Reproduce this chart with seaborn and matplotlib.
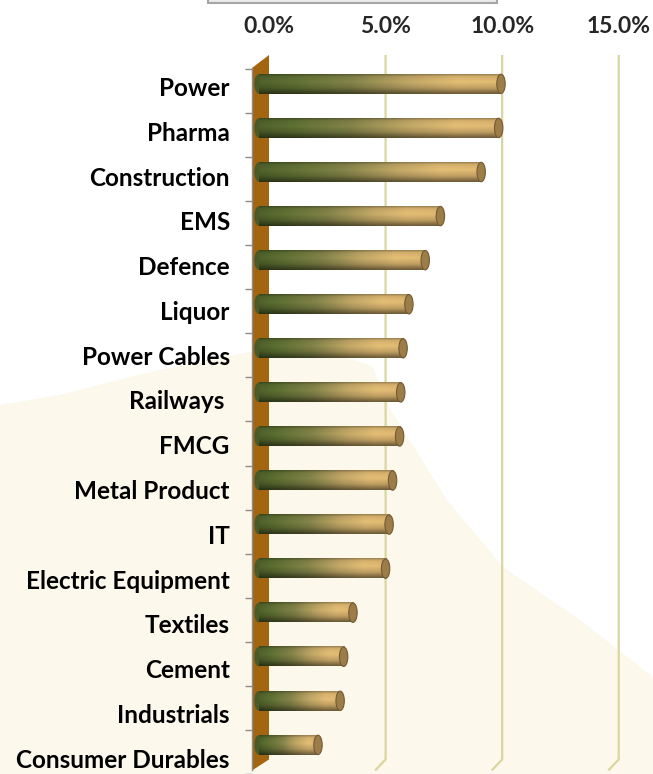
import numpy as np
import pandas as pd
import matplotlib
matplotlib.use('Agg')
import matplotlib.pyplot as plt
from matplotlib.colors import LinearSegmentedColormap
from matplotlib.patches import Polygon, Ellipse, Rectangle
import seaborn as sns

# 数据 (从图中读取, 单位 %)
sectors = ['Power', 'Pharma', 'Construction', 'EMS', 'Defence', 'Liquor',
           'Power Cables', 'Railways ', 'FMCG', 'Metal Product', 'IT',
           'Electric Equipment', 'Textiles', 'Cement', 'Industrials',
           'Consumer Durables']
returns = [10.4, 10.3, 9.55, 7.8, 7.15, 6.45, 6.2, 6.1, 6.05, 5.75, 5.6,
           5.45, 4.05, 3.65, 3.5, 2.55]
tick_values = [0, 5, 10, 15]
tick_labels = ['0.0%', '5.0%', '10.0%', '15.0%']

sns.set_theme(style='white')
plt.rcParams['font.family'] = ['Lato', 'DejaVu Sans']

W, H = 653, 774
fig = plt.figure(figsize=(W / 100, H / 100), dpi=100)
fig.patch.set_facecolor('white')

# 背景水印 (浅米色)
wm = [(0, 405), (60, 395), (150, 372), (250, 352), (330, 352), (372, 366),
      (392, 412), (447, 500), (503, 567), (580, 620), (653, 677),
      (653, 774), (0, 774)]
fig.add_artist(Polygon([(x / W, 1 - y / H) for x, y in wm], closed=True,
                       transform=fig.transFigure, facecolor='#fcf8eb',
                       edgecolor='none', zorder=0))
# 顶部被裁掉的标题框
fig.add_artist(Rectangle((208 / W, 1 - 3 / H), 289 / W, 6 / H,
                         transform=fig.transFigure, facecolor='#ebebeb',
                         edgecolor='#a5a5a5', lw=1.5, zorder=1))

ax = fig.add_axes([252 / W, 0, (W - 252) / W, (H - 55) / H])
ax.set_facecolor('none')

df = pd.DataFrame({'sector': sectors, 'ret': returns})
sns.barplot(data=df, x='ret', y='sector', orient='h', width=0.44,
            color='#7d7d46', ax=ax, zorder=3)

xlim = (-0.73, 16.47)
ylim = (15.58, -0.655)
depth = 0.45   # 3D 视角偏移

# 圆柱渐变
stops = [(0.0, '#4b5d29'), (0.15, '#5b6b31'), (0.38, '#7c7c45'),
         (0.62, '#b79e61'), (0.82, '#d6b26e'), (1.0, '#d3ae6b')]
cmap = LinearSegmentedColormap.from_list('cyl', stops)
horiz = cmap(np.linspace(0, 1, 256))[:, :3]
v = np.linspace(0, 1, 48)
shade = np.interp(v, [0, 0.12, 0.4, 0.7, 1.0], [0.72, 1.0, 1.07, 0.9, 0.5])
img = np.clip(horiz[None, :, :] * shade[:, None, None], 0, 1)

cap_w = 0.36
for p in list(ax.patches):
    x0 = p.get_x() - depth
    w = p.get_width()
    y0 = p.get_y()
    h = p.get_height()
    p.set_visible(False)
    ax.add_patch(Ellipse((x0, y0 + h / 2), cap_w, h, facecolor='#4a5b28',
                         edgecolor='none', zorder=3))
    ax.imshow(img, extent=(x0, x0 + w, y0 + h, y0), aspect='auto',
              interpolation='bicubic', zorder=3.5)
    ax.add_patch(Ellipse((x0 + w, y0 + h / 2), cap_w, h, facecolor='#9c7c47',
                         edgecolor='#735a33', lw=0.8, zorder=4))

# 背墙网格线
for g in tick_values[1:]:
    ax.plot([g, g, g - depth], [ylim[1], 15.33, ylim[0]], color='#dad6a0',
            lw=1.6, zorder=1, solid_capstyle='butt')

# 左侧墙
ax.add_patch(Polygon([(xlim[0], -0.36), (0, ylim[1]), (0, 15.33),
                      (xlim[0], ylim[0])], closed=True,
                     facecolor='#a3650f', edgecolor='none', zorder=2))

ax.set_xlim(*xlim)
ax.set_ylim(*ylim)

# 坐标轴
ax.xaxis.tick_top()
ax.set_xticks(tick_values, tick_labels)
ax.tick_params(axis='x', length=0, pad=13, labelsize=16.5)
for t in ax.get_xticklabels():
    t.set_fontweight('bold')

n = len(sectors)
label_pos = np.arange(n) * 1.016 + 0.06
ax.set_yticks(label_pos, sectors)
ax.set_yticks(np.arange(n + 1) - 0.34, minor=True)
ax.tick_params(axis='y', which='major', length=0, pad=16, labelsize=17.5)
ax.tick_params(axis='y', which='minor', left=True, length=5, width=1,
               color='#8c8c8c')
for t in ax.get_yticklabels():
    t.set_fontweight('bold')
    t.set_color('black')

ax.set_xlabel('')
ax.set_ylabel('')
for s in ['top', 'right', 'bottom']:
    ax.spines[s].set_visible(False)
ax.spines['left'].set_color('#8c8c8c')
ax.spines['left'].set_linewidth(1)
ax.spines['left'].set_bounds(-0.36, ylim[0])
ax.grid(False)

fig.savefig('out.png', dpi=100)
